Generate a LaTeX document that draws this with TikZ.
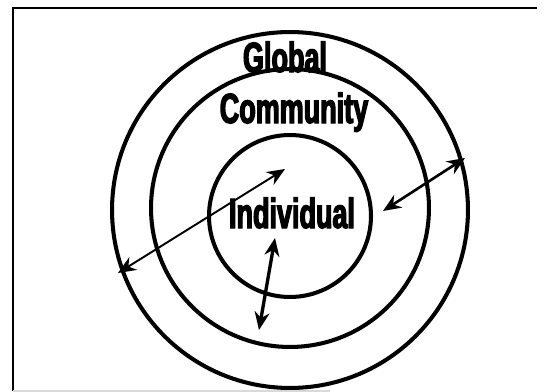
\documentclass[tikz,border=0pt]{standalone}
\usepackage{fontspec}
\newfontfamily\ringfont[BoldFeatures={FakeStretch=0.64,FakeBold=3}]{Liberation Sans}
\usetikzlibrary{arrows.meta}

\begin{document}
\begin{tikzpicture}[
                    x=0.02cm,
                    y=-0.02cm,
                    <->,
                    >={Stealth[length=3.6mm,width=3mm]},
                    line width=1.1pt
                ]
                \tikzstyle{ring}=[
                    circle,
                    draw=black,
                    line width=2.3pt,
                    inner sep=0pt
                ]
                \tikzstyle{ringtext}=[
                    font=\ringfont\bfseries\fontsize{24}{24}\selectfont,
                    inner sep=0pt,
                    anchor=base
                ]

                \useasboundingbox (0,0) rectangle (552,392);

                % frame
                \coordinate (TL) at (13,8);
                \coordinate (TR) at (537,8);
                \coordinate (BL) at (13,391);
                \coordinate (BR) at (330,391);
                \draw[-] (TR) -- (TL) -- (BL);
                \draw[-, black!15, line width=0.6pt] (BL) -- (BR);

                % circles
                \node[ring, minimum size=7.12cm] (global) at (290,210) {};
                \node[ring, minimum size=5.56cm] (community) at (290,208) {};
                \node[ring, minimum size=3.24cm] (individual) at (290,216) {};

                % labels
                \node[ringtext] (G) at (285,72) {Global};
                \node[ringtext] (C) at (294,123) {Community};
                \node[ringtext] (I) at (292,228) {Individual};

                % arrow ends
                \coordinate (a1) at (118,273);
                \coordinate (a2) at (285,169);
                \coordinate (b1) at (383,211);
                \coordinate (b2) at (465,158);
                \coordinate (c1) at (275,238);
                \coordinate (c2) at (259,330);

                \path
                (a1) edge [line width=1.1pt] (a2)
                (b1) edge [line width=1.5pt] (b2)
                (c1) edge [line width=1.9pt] (c2)
                ;
            \end{tikzpicture}
\end{document}
